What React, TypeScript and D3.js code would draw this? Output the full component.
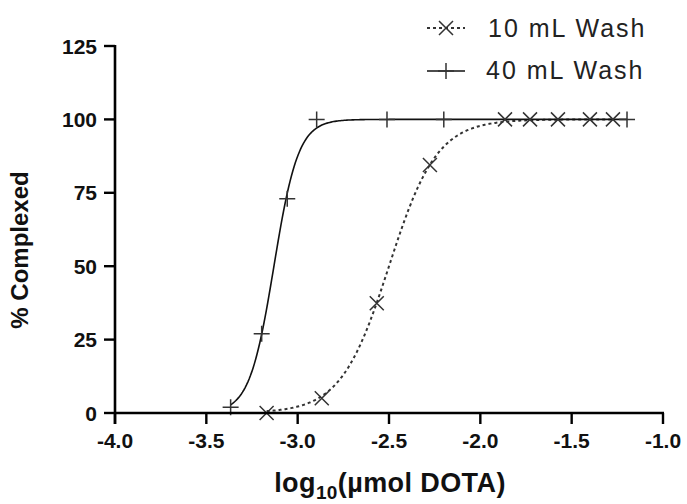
import React from 'react';
import * as d3 from 'd3';

const xTicks = [-4.0, -3.5, -3.0, -2.5, -2.0, -1.5, -1.0];
const yTicks = [0, 25, 50, 75, 100, 125];

const wash10X = [-3.17, -2.868, -2.567, -2.276, -1.865, -1.728, -1.575, -1.40, -1.274];
const wash10Y = [0, 5, 37.4, 84.5, 100, 100, 100, 100, 100];
const wash40X = [-3.367, -3.197, -3.057, -2.896, -2.511, -2.2, -1.197];
const wash40Y = [2, 27, 73, 100, 100, 100, 100];

// sigmoidal fit parameters
const fit10LogEC50 = -2.50;
const fit10Hill = 3.3;
const fit40LogEC50 = -3.13;
const fit40Hill = 6.5;

const seriesNames = ['10 mL Wash', '40 mL Wash'];

export default function App() {
  const W = 687, H = 504;
  const x = d3.scaleLinear().domain([-4, -1]).range([115, 663]);
  const y = d3.scaleLinear().domain([0, 125]).range([413, 46]);

  const sig = (ec: number, h: number) => (v: number) => 100 / (1 + Math.pow(10, (ec - v) * h));
  const makeCurve = (xs: number[], ec: number, h: number) => {
    const f = sig(ec, h);
    const lo = d3.min(xs)!, hi = d3.max(xs)!;
    const n = 300;
    const pts: [number, number][] = d3.range(n + 1).map(i => {
      const v = lo + (hi - lo) * i / n;
      return [v, f(v)];
    });
    return d3.line<[number, number]>().x(d => x(d[0])).y(d => y(d[1]))(pts) || '';
  };
  const curve10 = makeCurve(wash10X, fit10LogEC50, fit10Hill);
  const curve40 = makeCurve(wash40X, fit40LogEC50, fit40Hill);

  const plusPath = 'M-8,0H8M0,-8V8';
  const crossPath = 'M-7,-7L7,7M-7,7L7,-7';
  const markerColor = '#333';

  return (
    <svg width={W} height={H} style={{ position: 'absolute', left: 0, top: 0, background: '#fff' }}
      fontFamily="'Liberation Sans', Arial, sans-serif">
      <rect x={0} y={0} width={W} height={H} fill="#fff" />
      {/* curves */}
      <path d={curve10} fill="none" stroke="#333" strokeWidth={2} strokeDasharray="3,3" />
      <path d={curve40} fill="none" stroke="#111" strokeWidth={1.6} />
      {/* markers */}
      {wash10X.map((v, i) => (
        <path key={'a' + i} d={crossPath} transform={`translate(${x(v)},${y(wash10Y[i])})`} stroke={markerColor} strokeWidth={1.5} fill="none" />
      ))}
      {wash40X.map((v, i) => (
        <path key={'b' + i} d={plusPath} transform={`translate(${x(v)},${y(wash40Y[i])})`} stroke={markerColor} strokeWidth={1.5} fill="none" />
      ))}
      {/* axes */}
      <line x1={x(-4)} x2={x(-4)} y1={y(125) - 1} y2={y(0) + 11} stroke="#000" strokeWidth={2.6} />
      <line x1={x(-4) - 1} x2={x(-1) + 1} y1={y(0)} y2={y(0)} stroke="#000" strokeWidth={2.6} />
      {yTicks.map(t => (
        <g key={'y' + t}>
          <line x1={x(-4) - 11} x2={x(-4)} y1={y(t)} y2={y(t)} stroke="#000" strokeWidth={2.4} />
          <text x={97} y={y(t)} dy="0.36em" textAnchor="end" fontSize={21} fontWeight="bold" fill="#111">{t}</text>
        </g>
      ))}
      {xTicks.map(t => (
        <g key={'x' + t}>
          <line x1={x(t)} x2={x(t)} y1={y(0)} y2={y(0) + 11} stroke="#000" strokeWidth={2.4} />
          <text x={x(t)} y={448} textAnchor="middle" fontSize={21} fontWeight="bold" fill="#111">{t.toFixed(1)}</text>
        </g>
      ))}
      {/* axis titles */}
      <text x={390} y={492} textAnchor="middle" fontSize={27} fontWeight="bold" fill="#111" letterSpacing={0.4}>
        log<tspan fontSize={19} dy={7}>10</tspan><tspan dy={-7}>(µmol DOTA)</tspan>
      </text>
      <text transform={`translate(28,${250}) rotate(-90)`} textAnchor="middle" fontSize={24} fontWeight="bold" fill="#111">% Complexed</text>
      {/* legend */}
      <g>
        <line x1={427} x2={465} y1={28} y2={28} stroke="#333" strokeWidth={2} strokeDasharray="3,3" />
        <path d={crossPath} transform="translate(446,28)" stroke={markerColor} strokeWidth={1.5} fill="none" />
        <text x={488} y={37} fontSize={25} fill="#222" letterSpacing={2}>{seriesNames[0]}</text>
        <line x1={427} x2={465} y1={71} y2={71} stroke="#111" strokeWidth={1.6} />
        <path d={plusPath} transform="translate(446,71)" stroke={markerColor} strokeWidth={1.5} fill="none" />
        <text x={486} y={79} fontSize={25} fill="#222" letterSpacing={2}>{seriesNames[1]}</text>
      </g>
    </svg>
  );
}
